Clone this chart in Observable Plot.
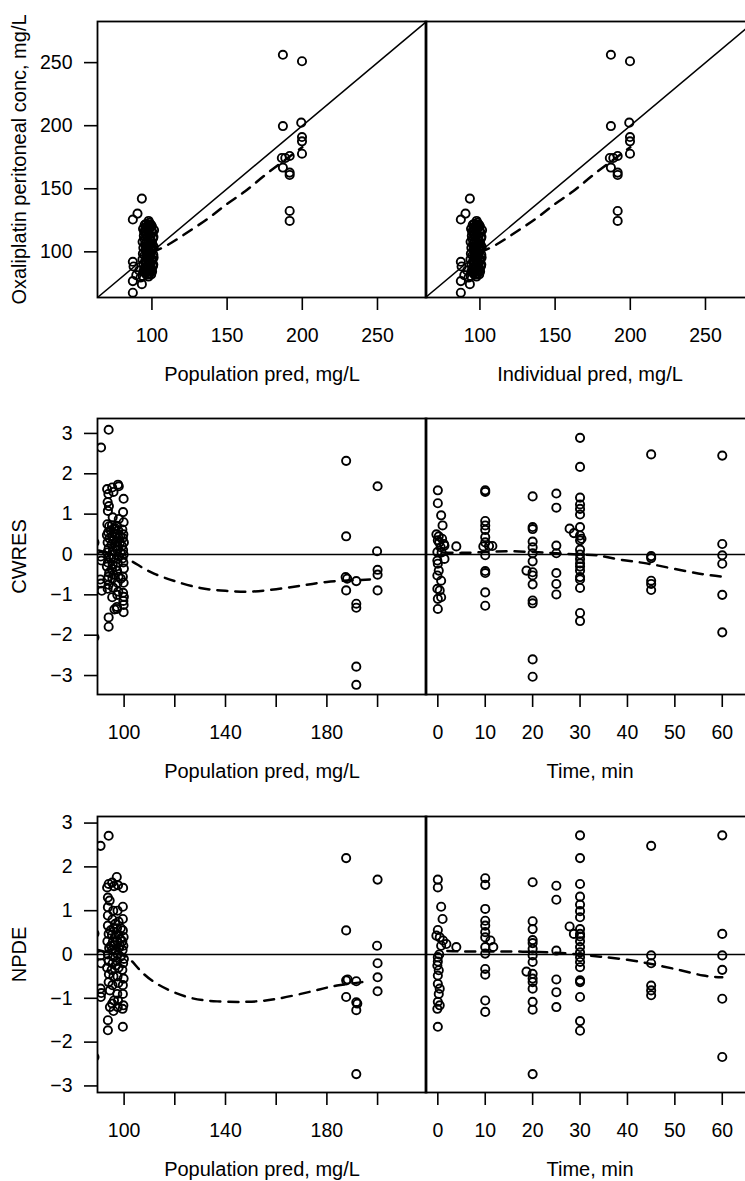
<!DOCTYPE html>
<html><head><meta charset="utf-8">
<script src="https://cdn.jsdelivr.net/npm/d3@7"></script>
<script src="https://cdn.jsdelivr.net/npm/@observablehq/plot@0.6"></script>
<style>
html,body{margin:0;padding:0;background:#fff;}
#chart{position:relative;width:745px;height:1181px;overflow:hidden;background:#fff;}
#chart > div{position:absolute;}
#chart svg{max-width:none !important;display:block;}
</style></head><body><div id="chart"></div>
<script>
// ---------- tick labels ----------
const concTicks = [100, 150, 200, 250];
const predTicks = [100, 120, 140, 160, 180, 200];
const predTickLabels = [100, 140, 180];
const timeTicks = [0, 10, 20, 30, 40, 50, 60];
const resTicks = [-3, -2, -1, 0, 1, 2, 3];

// ---------- axis titles ----------
const yTitleConc = "Oxaliplatin peritoneal conc, mg/L";
const xTitlePred = "Population pred, mg/L";
const xTitleIpred = "Individual pred, mg/L";
const xTitleTime = "Time, min";
const yTitleCwres = "CWRES";
const yTitleNpde = "NPDE";

// ---------- observed vs population prediction [PRED, DV] ----------
const predDv = [
  [87.3,125.6],[90.4,130.3],[93.3,142.2],[97.8,124.5],[100.0,120.3],[101.4,117.2],
  [87.3,92.1],[87.8,88.4],[89.6,81.5],[87.3,76.8],[93.3,74.4],[87.3,67.6],[91.5,85.2],[92.4,79.6],
  [94.1,118.3],[94.6,112.7],[93.8,107.9],[94.3,103.2],[94.0,98.6],[93.7,94.1],[94.4,89.7],[94.2,84.3],[93.9,80.8],
  [95.2,121.4],[95.6,115.9],[95.0,110.4],[95.4,106.1],[95.8,101.7],[95.1,97.3],[95.5,92.8],[95.3,87.6],[95.7,83.2],
  [96.3,122.2],[96.7,117.6],[96.1,113.5],[96.5,108.3],[96.9,104.6],[96.2,99.8],[96.6,95.4],[96.0,90.9],[96.8,86.1],[96.4,81.9],
  [97.2,120.8],[97.6,116.1],[97.0,111.8],[97.4,107.4],[97.8,102.9],[97.1,98.2],[97.5,93.6],[97.3,89.2],[97.9,84.8],[97.7,80.4],
  [98.3,123.1],[98.6,118.9],[98.1,114.2],[98.8,109.6],[98.4,105.3],[98.0,100.7],[98.7,96.5],[98.2,92.0],[98.9,87.4],[98.5,83.0],
  [99.3,121.7],[99.6,117.0],[99.1,112.5],[99.8,108.1],[99.4,103.9],[99.0,99.4],[99.7,95.0],[99.2,90.6],[99.9,86.3],[99.5,82.1],
  [100.4,115.4],[100.8,110.9],[100.2,106.6],[100.6,102.4],[100.9,97.8],[100.3,93.3],[100.7,88.8],[100.1,84.5],
  [101.0,112.0],[101.2,104.0],[101.1,95.5],[100.9,90.0],
  [94.8,116.0],[96.0,119.5],[97.3,113.0],[98.5,121.0],[95.9,104.0],[97.0,100.5],[98.3,97.5],[99.5,101.0],[96.5,92.0],[95.0,86.0],[97.5,87.0],[99.0,85.0],[98.0,82.0],[96.2,84.0],
  [187.1,256.2],[199.8,251.1],[187.1,199.7],[199.3,202.4],[199.8,191.0],[199.8,187.6],[199.8,177.8],
  [186.4,174.4],[188.7,174.4],[191.6,176.0],[187.1,166.8],[191.6,162.8],[191.6,160.9],[191.6,132.4],[191.6,124.5]
];
// smooth (dashed) through observed vs population prediction
const predDvSmooth = [[100,99.5],[111,105.8],[125,116.5],[138,127],[150,138],[162,148],[174,159.7],[187,171.5],[200,183]];

// individual prediction panel reads the same as the population prediction panel
const ipredDv = predDv;
const ipredDvSmooth = predDvSmooth;

// ---------- CWRES vs PRED ----------
const predCwres = [
  [88.3,0.30],[88.3,-2.05],[93.9,3.09],[90.9,2.65],
  [90.8,-0.05],[91.0,-0.15],[90.6,-0.62],[90.9,-0.72],[91.2,-0.90],
  [93.3,1.62],[93.8,1.50],[93.5,1.30],[94.0,1.20],[93.6,1.08],[93.4,0.75],[94.1,0.70],[93.7,0.55],[93.2,0.48],[94.2,0.40],[93.5,0.30],[93.9,0.15],[93.3,0.05],[94.0,-0.05],[93.6,-0.20],[93.2,-0.30],[94.1,-0.45],[93.8,-0.55],[93.4,-0.62],[93.9,-0.75],[93.5,-0.85],[93.9,-1.56],[93.9,-1.79],
  [95.3,1.66],[95.8,1.55],[95.5,0.92],[95.2,0.72],[95.9,0.62],[95.4,0.46],[95.7,0.36],[95.1,0.25],[95.6,0.10],[95.3,0.00],[95.9,-0.10],[95.5,-0.25],[95.2,-0.36],[95.8,-0.50],[95.4,-0.60],[95.7,-0.82],[95.3,-1.06],[96.2,-1.36],
  [97.6,1.73],[97.9,1.69],[97.9,0.88],[97.2,0.71],[97.7,0.60],[97.4,0.51],[97.8,0.41],[97.1,0.30],[97.6,0.20],[97.3,0.11],[97.9,-0.05],[97.5,-0.20],[97.2,-0.40],[97.8,-0.55],[97.4,-0.70],[97.7,-0.92],[97.3,-1.00],[97.2,-1.30],[97.2,-1.35],
  [99.8,1.38],[99.6,1.05],[99.8,0.80],[99.3,0.62],[99.7,0.50],[99.5,0.41],[99.9,0.30],[99.2,0.21],[99.6,0.11],[99.8,0.00],[99.4,-0.10],[99.7,-0.20],[99.9,-0.35],[99.5,-0.55],[99.8,-0.70],[99.6,-0.95],[99.9,-1.05],[99.7,-1.15],[99.8,-1.25],[99.8,-1.43],
  [94.6,0.60],[96.3,0.50],[98.5,0.45],[96.6,0.20],[98.6,0.05],[94.7,-0.10],[96.8,-0.30],[98.7,-0.60],[96.5,0.65],[98.4,0.30],
  [187.6,2.32],[200.0,1.69],[187.6,0.45],[199.8,0.08],[200.0,-0.38],[200.0,-0.50],[200.0,-0.89],[187.4,-0.56],[188.0,-0.60],[187.6,-0.89],[191.6,-0.66],[191.6,-1.22],[191.6,-1.32],[191.6,-2.78],[191.6,-3.23]
];
const predCwresSmooth = [[90,0.10],[100,-0.08],[106,-0.28],[112,-0.48],[120,-0.66],[130,-0.83],[140,-0.90],[150,-0.92],[160,-0.86],[170,-0.77],[180,-0.68],[190,-0.64],[197,-0.62]];

// ---------- CWRES vs TIME ----------
const timeCwres = [
  [0,1.59],[0,1.27],[0.7,0.97],[1,0.72],[-0.3,0.50],[0.2,0.45],[0.9,0.39],[1.3,0.26],[0,0.35],[0.6,0.18],[1.4,0.22],[3.9,0.20],[-0.1,0.06],[1.4,-0.11],[-0.1,-0.15],[0,-0.23],[0.2,-0.40],[-0.1,-0.52],[0.7,-0.65],[-0.1,-0.85],[0.4,-0.89],[0,-1.10],[0.7,-1.06],[0,-1.35],[0.3,0.30],[0.8,0.05],
  [10,1.59],[10,1.55],[10,0.83],[10,0.72],[10,0.61],[10,0.43],[9.6,0.20],[10.8,0.21],[11.5,0.21],[10,-0.02],[10,-0.41],[10,-0.46],[10,-0.94],[10,-1.27],[10,0.30],
  [20,1.44],[20,0.68],[20,0.63],[20,0.32],[20,0.18],[20,0.03],[20,-0.17],[18.7,-0.40],[20,-0.44],[20,-0.52],[20,-0.74],[20,-1.14],[20,-1.21],[20,-2.60],[20,-3.03],
  [25,1.51],[25,1.16],[25,0.22],[25,0.03],[25,-0.46],[25,-0.73],[25,-0.99],
  [27.8,0.64],[28.7,0.53],
  [30,2.89],[30,2.17],[30,1.41],[30,1.24],[30,1.13],[30,0.99],[30,0.68],[30,0.47],[30.3,0.39],[30,0.12],[30,0],[30,-0.11],[30,-0.22],[30,-0.40],[30,-0.56],[30,-0.62],[30,-0.83],[30,-1.45],[30,-1.65],[30,0.35],[30,-0.30],
  [45,2.48],[45,-0.04],[45,-0.09],[45,-0.65],[45,-0.73],[45,-0.88],
  [60,2.45],[60,0.26],[60,-0.02],[60,-0.23],[60,-1.00],[60,-1.93]
];
const timeCwresSmooth = [[1,0.05],[5,0.04],[10,0.06],[15,0.08],[20,0.06],[25,0.03],[30,0.0],[34,-0.03],[38.5,-0.13],[44,-0.22],[50,-0.36],[56,-0.49],[60,-0.55]];

// ---------- NPDE vs PRED ----------
const predNpde = [
  [88.3,0.48],[88.3,-2.34],[93.9,2.71],[90.7,2.48],
  [90.7,-0.02],[90.9,-0.20],[90.7,-0.78],[91.0,-0.88],[90.8,-0.97],
  [93.9,1.61],[93.3,1.53],[93.6,1.30],[94.3,1.23],[93.6,1.08],[93.6,0.89],[93.6,0.66],[93.9,0.47],[93.4,0.30],[94.1,0.15],[93.6,0.00],[93.9,-0.15],[93.3,-0.30],[94.0,-0.45],[93.9,-0.63],[94.4,-0.82],[94.4,-1.20],[93.6,-1.50],[93.6,-1.73],
  [95.3,1.64],[96.0,1.56],[95.7,1.00],[95.4,0.80],[95.8,0.60],[95.2,0.45],[95.6,0.30],[95.9,0.20],[95.3,0.10],[95.7,-0.05],[95.5,-0.20],[95.1,-0.35],[95.8,-0.50],[95.4,-0.70],[96.0,-1.05],[95.8,-1.29],[95.3,-1.12],
  [97.1,1.77],[97.6,1.58],[97.4,1.00],[97.8,0.75],[97.2,0.60],[97.7,0.45],[97.3,0.30],[97.9,0.15],[97.5,0.00],[97.2,-0.15],[97.8,-0.30],[97.4,-0.50],[97.7,-0.65],[97.3,-0.90],[97.6,-1.05],[97.5,-1.20],
  [99.6,1.52],[99.5,1.09],[99.5,0.81],[99.5,0.55],[99.8,0.40],[99.3,0.30],[99.7,0.20],[99.4,0.10],[99.9,-0.10],[99.6,-0.20],[99.3,-0.35],[99.8,-0.55],[99.5,-0.70],[99.5,-0.90],[99.7,-1.16],[99.4,-1.24],[99.5,-1.65],
  [94.7,0.55],[96.4,0.40],[98.5,0.35],[96.6,0.10],[98.6,-0.05],[94.8,0.20],[96.8,-0.25],[98.7,0.60],[96.5,0.70],[98.4,0.20],
  [187.6,2.20],[200.0,1.71],[187.6,0.55],[199.8,0.20],[200.0,-0.20],[200.0,-0.52],[200.0,-0.84],[187.6,-0.59],[188.2,-0.57],[191.6,-0.61],[187.6,-0.97],[191.6,-1.09],[191.6,-1.27],[191.6,-2.73],[192.0,-1.12]
];
const predNpdeSmooth = [[90,0.10],[96,0.02],[101.2,-0.06],[105.8,-0.33],[113,-0.67],[124.9,-0.97],[136.7,-1.07],[148.5,-1.08],[160.4,-1.01],[174.8,-0.83],[184,-0.71],[196.9,-0.61]];

// ---------- NPDE vs TIME ----------
const timeNpde = [
  [0,1.71],[0,1.53],[0.7,1.09],[1,0.81],[0,0.56],[-0.3,0.43],[0.4,0.39],[1.1,0.32],[1.8,0.24],[0.7,0.20],[3.9,0.17],[0,-0.06],[0,-0.16],[-0.1,-0.25],[0.2,-0.36],[0,-0.48],[0,-0.67],[0.4,-0.78],[0,-1.08],[0.4,-1.16],[-0.1,-1.24],[0,-1.65],[0.3,0.00],[0.2,-0.90],
  [10,1.74],[10,1.59],[10,1.04],[10,0.77],[10,0.66],[10,0.51],[10,0.39],[11.1,0.32],[11.7,0.17],[10,0.17],[10,0.02],[10,-0.33],[10,-0.46],[10,-1.05],[10,-1.31],
  [20,1.65],[20,0.76],[20,0.58],[20,0.33],[20,0.26],[20,0.13],[20,-0.02],[20,-0.17],[18.7,-0.39],[20,-0.44],[20,-0.55],[20,-0.63],[20,-0.78],[20,-1.08],[20,-1.26],[20,-2.73],
  [25,1.57],[25,1.25],[25,0.09],[25,-0.57],[25,-0.86],[25,-1.20],
  [27.8,0.64],[28.7,0.47],
  [30,2.72],[30,2.20],[30,1.61],[30,1.32],[30,1.14],[30,0.99],[30,0.85],[30,0.58],[30,0.47],[30,0.41],[30,0.30],[30,0.17],[30,0.05],[30,-0.06],[30,-0.17],[30,-0.29],[30,-0.59],[30,-0.63],[30,-0.97],[30,-1.52],[30,-1.74],
  [45,2.48],[45,-0.02],[45,-0.20],[45,-0.71],[45,-0.82],[45,-0.93],
  [60,2.72],[60,0.47],[60,-0.02],[60,-0.35],[60,-1.01],[60,-2.34]
];
const timeNpdeSmooth = [[2,0.08],[5,0.07],[10,0.07],[15,0.07],[20,0.06],[25,0.04],[30,0.0],[34.3,-0.05],[40,-0.12],[45.6,-0.23],[51.2,-0.36],[56,-0.48],[60,-0.52]];

// ---------- scale domains ----------
const concDomain = [63.8, 282.6];
const predDomain = [89.5, 219.3];
const timeDomain = [-2.6, 66.8];
const cwresDomain = [-3.47, 3.37];
const npdeDomain = [-3.15, 3.15];

const FONT = "'Liberation Sans', Arial, Helvetica, sans-serif";
const FRAME_W = 329, FRAME_H = 276;
const TICK = 13, TICK_FS = 19.5, TITLE_FS = 20;
const intFmt = d3.format("d");

function panel(o) {
  const isLeft = o.col === 0;
  const marginLeft = isLeft ? 97 : 0;
  const width = marginLeft + FRAME_W;
  const height = o.mt + FRAME_H + o.mb;
  const xFmt = o.xTickFormat || intFmt;
  const marks = [];
  if (o.identity) {
    marks.push(Plot.link([o.xDomain], {x1: d => d[0], y1: d => d[0], x2: d => d[1], y2: d => d[1], stroke: "black", strokeWidth: 1.5, clip: true}));
  }
  if (o.zero) marks.push(Plot.ruleY([0], {stroke: "black", strokeWidth: 1.7}));
  marks.push(Plot.dot(o.points, {x: d => d[0], y: d => d[1], r: 4.1, stroke: "black", strokeWidth: 1.9, fill: "none", clip: true}));
  marks.push(Plot.line(o.smooth, {x: d => d[0], y: d => d[1], stroke: "black", strokeWidth: 2.5, strokeDasharray: "10,8", curve: "natural", clip: true}));
  marks.push(Plot.frame({stroke: "black", strokeWidth: 1.8}));
  // x axis: outward ticks and labels
  marks.push(Plot.ruleX(o.xTicks, {x: d => d, insetTop: FRAME_H, insetBottom: -TICK, stroke: "black", strokeWidth: 1.6}));
  marks.push(Plot.text(o.xTicks, {x: d => d, text: d => xFmt(d), frameAnchor: "bottom", dy: TICK + 18, lineAnchor: "top", fontSize: TICK_FS}));
  marks.push(Plot.text([o.xLabel], {text: d => d, frameAnchor: "bottom", textAnchor: "middle", dy: 77, lineAnchor: "middle", fontSize: TITLE_FS}));
  if (isLeft) {
    marks.push(Plot.ruleY(o.yTicks, {y: d => d, insetLeft: -TICK, insetRight: FRAME_W, stroke: "black", strokeWidth: 1.6}));
    marks.push(Plot.text(o.yTicks, {y: d => d, text: d => intFmt(d), frameAnchor: "left", dx: -(TICK + 12), textAnchor: "end", lineAnchor: "middle", fontSize: TICK_FS}));
    marks.push(Plot.text([o.yLabel], {text: d => d, frameAnchor: "left", textAnchor: "middle", dx: -77.5, rotate: -90, lineAnchor: "middle", fontSize: TITLE_FS}));
  }
  const svg = Plot.plot({
    width, height,
    marginLeft, marginRight: 0, marginTop: o.mt, marginBottom: o.mb,
    x: {domain: o.xDomain, axis: null},
    y: {domain: o.yDomain, axis: null},
    style: {fontFamily: FONT, color: "black", background: "transparent", overflow: "visible"},
    marks
  });
  const div = document.createElement("div");
  div.style.left = (isLeft ? 0 : 425) + "px";
  div.style.top = o.top + "px";
  div.style.width = width + "px";
  div.style.height = height + "px";
  div.appendChild(svg);
  document.getElementById("chart").appendChild(div);
}

const predFmt = d => predTickLabels.includes(d) ? String(d) : "";

// Row 1
panel({col: 0, top: 0, mt: 21, mb: 90, points: predDv, smooth: predDvSmooth, xDomain: concDomain, yDomain: concDomain,
  xTicks: concTicks, yTicks: concTicks, xLabel: xTitlePred, yLabel: yTitleConc, identity: true});
panel({col: 1, top: 0, mt: 21, mb: 90, points: ipredDv, smooth: ipredDvSmooth, xDomain: concDomain, yDomain: concDomain,
  xTicks: concTicks, xLabel: xTitleIpred, identity: true});
// Row 2
panel({col: 0, top: 390, mt: 28, mb: 90, points: predCwres, smooth: predCwresSmooth, xDomain: predDomain, yDomain: cwresDomain,
  xTicks: predTicks, xTickFormat: predFmt, yTicks: resTicks, xLabel: xTitlePred, yLabel: yTitleCwres, zero: true});
panel({col: 1, top: 390, mt: 28, mb: 90, points: timeCwres, smooth: timeCwresSmooth, xDomain: timeDomain, yDomain: cwresDomain,
  xTicks: timeTicks, xLabel: xTitleTime, zero: true});
// Row 3
panel({col: 0, top: 790, mt: 26, mb: 89, points: predNpde, smooth: predNpdeSmooth, xDomain: predDomain, yDomain: npdeDomain,
  xTicks: predTicks, xTickFormat: predFmt, yTicks: resTicks, xLabel: xTitlePred, yLabel: yTitleNpde, zero: true});
panel({col: 1, top: 790, mt: 26, mb: 89, points: timeNpde, smooth: timeNpdeSmooth, xDomain: timeDomain, yDomain: npdeDomain,
  xTicks: timeTicks, xLabel: xTitleTime, zero: true});
</script>
</body></html>
